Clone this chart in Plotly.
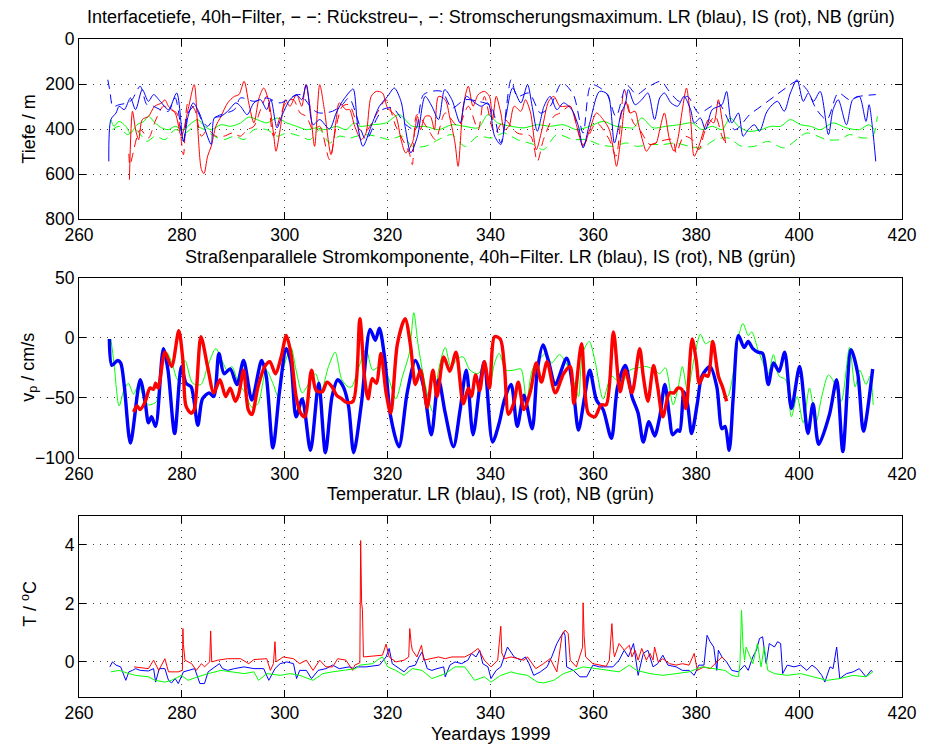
import plotly.graph_objects as go
from plotly.subplots import make_subplots

# ---------------- Interface depth (m), 40h filter ----------------
# "-" : depth of maximum current shear, "--" : backscatter interface
LR_SHEAR = [(265.8,544),(266.2,358),(267.2,329),(267.8,299),(268.8,314),(270.0,262),(271.0,314),(272.3,225),(273.5,277),(274.5,247),(275.8,277),(277.4,314),(279.0,240),(280.3,455),(281.2,344),(282.2,284),(283.4,329),(284.4,395),(285.7,469),(286.3,351),(287.6,344),(288.9,321),(290.5,284),(291.4,299),(292.7,336),(294.0,284),(295.3,270),(296.5,314),(297.3,270),(298.5,395),(299.4,344),(301.0,270),(302.3,247),(303.3,270),(304.2,203),(305.5,381),(306.8,358),(308.7,400),(310.0,329),(311.2,277),(311.9,255),(312.6,235),(313.3,222),(314.2,388),(315.2,477),(316.8,388),(318.4,299),(320.0,255),(321.3,218),(322.6,277),(323.5,403),(324.5,506),(325.8,432),(327.3,255),(328.6,299),(329.9,358),(331.1,225),(332.5,270),(334.1,373),(335.3,255),(336.6,277),(338.2,299),(339.5,284),(340.8,432),(342.0,469),(343.0,344),(344.3,218),(345.9,284),(347.2,203),(348.1,299),(349.1,410),(350.4,299),(351.6,255),(352.9,314),(354.2,284),(355.8,314),(357.1,388),(358.0,484),(359.3,373),(361.2,233),(362.8,247),(364.1,462),(365.4,329),(366.2,290),(366.8,225),(368.1,292),(369.4,270),(370.6,240),(371.9,358),(372.9,262),(373.8,240),(375.1,284),(376.4,299),(377.6,255),(378.9,314),(379.6,373),(380.8,351),(381.8,403),(383.1,314),(385.0,292),(385.9,233),(386.9,373),(388.2,329),(389.1,432),(390.1,403),(391.3,381),(392.3,410),(393.6,329),(394.5,299),(395.8,277),(397.1,321),(398.3,240),(399.6,181),(400.8,277),(401.8,240),(402.8,277),(404.1,233),(405.7,425),(406.6,314),(407.6,270),(409.2,381),(410.4,270),(411.7,255),(413.0,366),(413.6,292),(414.3,403),(414.9,544)]
LR_BACK = [(265.6,181),(266.0,230),(266.6,300),(267.8,292),(269.4,284),(270.3,270),(271.9,210),(273.2,292),(274.5,299),(275.8,314),(277.4,321),(278.7,262),(280.3,455),(281.2,329),(282.5,299),(283.8,358),(285.0,388),(286.3,351),(287.6,336),(290.2,314),(291.4,262),(294.0,277),(296.5,262),(299.1,284),(301.7,255),(303.0,247),(305.5,314),(306.8,329),(309.3,321),(311.2,292),(312.5,262),(315.8,447),(317.8,358),(319.0,314),(321.0,307),(323.5,380),(325.4,403),(327.0,247),(330.5,233),(332.5,307),(335.0,270),(337.6,277),(340.1,299),(342.0,462),(344.0,181),(345.2,255),(347.5,240),(349.7,329),(351.6,299),(353.9,195),(356.1,247),(358.0,418),(359.6,203),(362.5,240),(364.4,344),(366.5,205),(368.4,247),(370.3,218),(373.2,188),(374.5,225),(376.7,277),(378.3,255),(380.5,330),(382.4,307),(384.3,284),(387.5,403),(390.4,336),(392.6,299),(395.2,255),(397.4,218),(399.6,188),(401.5,225),(403.4,314),(405.4,358),(407.6,240),(409.8,270),(411.7,255),(414.9,247)]
IS_SHEAR = [(269.8,625),(270.4,321),(271.0,403),(271.6,447),(272.3,358),(273.5,344),(274.7,299),(276.1,284),(276.7,270),(277.4,299),(278.7,329),(279.9,432),(281.2,314),(282.4,203),(283.1,403),(283.8,580),(284.3,598),(285.0,521),(285.7,477),(286.6,388),(287.6,344),(288.9,284),(290.2,255),(291.1,247),(292.1,188),(293.0,284),(294.0,373),(295.0,262),(295.9,218),(296.9,277),(297.8,418),(298.3,499),(299.1,403),(300.1,270),(301.0,299),(302.3,247),(303.3,299),(304.1,203),(304.9,299),(305.8,477),(306.8,203),(307.7,314),(309.0,514),(310.0,358),(310.6,284),(311.9,314),(312.6,314),(313.6,388),(314.9,447),(315.8,418),(316.8,255),(317.8,233),(319.0,240),(320.0,307),(321.6,344),(322.6,447),(323.5,506),(324.8,462),(325.8,344),(326.4,403),(327.3,344),(328.3,344),(329.1,403),(329.9,255),(331.2,270),(332.1,351),(333.1,462),(333.7,566),(334.7,299),(335.7,210),(336.6,299),(337.6,247),(338.8,233),(339.8,255),(340.4,358),(341.1,255),(342.0,329),(342.7,403),(343.6,388),(344.6,299),(345.9,321),(346.8,270),(347.8,329),(348.9,492),(350.0,403),(351.3,277),(352.3,255),(353.5,299),(354.5,299),(355.5,299),(356.7,381),(358.0,477),(359.3,403),(360.6,329),(361.9,358),(363.1,403),(363.9,492),(364.5,566),(365.4,432),(366.3,277),(367.1,329),(368.1,321),(368.7,373),(369.7,462),(370.3,499),(371.3,469),(372.2,462),(372.9,403),(373.8,329),(374.8,447),(375.7,499),(376.4,447),(377.3,314),(378.1,218),(378.9,358),(379.6,521),(380.5,477),(381.5,403),(382.4,358),(383.4,373),(384.3,270),(385.0,358),(385.7,462)]
IS_BACK = [(269.7,510),(269.9,560),(271.9,403),(273.5,440),(274.8,366),(276.4,299),(277.7,314),(279.0,329),(280.3,514),(281.2,284),(282.5,314),(283.8,432),(285.0,403),(286.6,432),(288.2,432),(289.8,418),(291.4,432),(292.7,403),(294.0,388),(295.3,314),(296.5,255),(297.8,432),(299.1,344),(300.4,277),(301.7,270),(303.0,329),(304.2,344),(305.5,403),(306.8,388),(308.7,536),(310.0,388),(311.2,299),(312.5,292),(314.6,403),(315.8,410),(317.8,336),(319.7,270),(321.6,388),(324.2,506),(324.8,558),(325.7,336),(327.7,395),(329.3,447),(331.2,329),(333.7,388),(335.7,299),(337.6,403),(338.8,255),(340.8,418),(342.7,358),(345.2,418),(347.8,432),(349.1,544),(350.3,447),(352.3,344),(353.5,329),(355.5,299),(358.0,469),(360.6,373),(363.1,447),(364.4,521),(366.0,225),(367.0,321),(367.8,373),(369.0,403),(371.0,469),(372.9,455),(375.4,447),(376.1,506),(377.6,432),(379.2,447),(380.5,492),(381.8,403),(383.7,344),(385.0,432),(385.9,469)]
NB_SHEAR = [(266.2,358),(266.8,388),(267.8,366),(269.1,388),(270.0,418),(271.3,381),(272.6,366),(273.5,344),(274.8,373),(276.1,395),(277.4,403),(278.7,388),(280.3,403),(281.9,373),(283.1,358),(284.4,388),(285.7,403),(287.6,381),(289.5,388),(291.4,373),(293.0,347),(294.6,358),(296.5,373),(298.5,351),(300.4,373),(302.3,388),(304.2,403),(306.1,395),(308.0,403),(310.0,388),(311.9,403),(313.5,373),(314.6,388),(317.1,381),(319.7,373),(322.2,336),(324.8,388),(327.3,388),(329.9,403),(332.5,381),(335.0,388),(337.6,395),(339.5,336),(341.4,373),(344.0,388),(346.5,395),(349.1,381),(351.6,388),(354.2,381),(356.7,403),(359.3,388),(361.9,366),(364.4,388),(367.0,395),(367.8,395),(369.4,351),(371.6,395),(374.1,388),(376.7,381),(379.2,373),(381.1,403),(383.1,388),(385.0,403),(386.6,351),(388.2,388),(390.1,410),(392.6,403),(394.5,388),(396.4,388),(398.3,358),(400.3,381),(402.2,388),(404.1,403),(406.6,373),(409.2,395),(411.7,403),(413.6,381),(414.6,403)]
NB_BACK = [(266.5,403),(267.8,388),(269.4,425),(271.0,403),(273.2,455),(274.8,432),(276.7,447),(278.7,403),(280.6,418),(282.5,388),(284.4,403),(286.3,432),(288.2,447),(290.2,432),(292.1,447),(294.0,403),(296.5,403),(298.5,432),(300.4,418),(303.0,432),(304.9,447),(306.8,403),(308.7,462),(310.6,432),(312.6,440),(315.2,425),(317.8,432),(320.3,447),(322.9,432),(324.8,477),(327.3,477),(329.9,447),(332.5,425),(335.0,477),(337.6,432),(340.1,440),(342.7,418),(345.2,447),(348.4,469),(350.3,492),(352.9,425),(356.1,447),(358.7,447),(361.2,469),(363.8,477),(366.5,462),(368.4,477),(371.0,469),(373.5,469),(376.1,462),(378.6,477),(381.1,484),(383.7,447),(386.2,440),(388.8,477),(391.3,477),(393.9,455),(397.1,484),(401.5,418),(405.3,447),(407.9,447),(409.8,425),(412.4,440),(414.3,432),(415.2,344)]

# ---------------- Along-strait current (cm/s), 40h filter ----------------
LR_V = [(265.9,-1),(266.4,-23),(267.5,-19),(268.1,-21),(268.8,-40),(270.0,-88),(271.9,-35),(272.9,-55),(273.5,-71),(274.1,-66),(274.9,-74),(276.4,-9),(277.3,-27),(278.6,-80),(279.9,-24),(280.8,-38),(281.8,-41),(283.1,-73),(284.0,-51),(285.3,-46),(286.2,-49),(287.2,-13),(288.2,-30),(289.4,-26),(290.7,-39),(292.0,-19),(293.6,-52),(295.5,-19),(296.4,-32),(297.7,-92),(299.0,-44),(300.3,-9),(301.2,-21),(302.2,-66),(303.4,-51),(305.0,-94),(306.6,-38),(307.9,-96),(309.2,-49),(310.3,-35),(311.4,-41),(312.4,-57),(313.4,-96),(314.9,-55),(316.6,7),(317.6,-2),(318.4,8),(319.4,-16),(320.6,-66),(322.2,-91),(323.8,-46),(325.4,-19),(327.0,-41),(328.5,-81),(329.9,-35),(331.2,-63),(332.8,-91),(334.1,-60),(335.3,-27),(336.6,-81),(337.9,-41),(338.8,-20),(340.4,-87),(341.7,-71),(342.7,-52),(344.0,-39),(345.2,-74),(346.5,-48),(348.1,-76),(349.1,-27),(350.2,-6),(351.3,-20),(352.6,-39),(354.8,-17),(356.1,-44),(357.1,-77),(358.3,-49),(359.3,-27),(360.6,-52),(361.9,-60),(363.5,-84),(364.7,-41),(366.2,-23),(367.5,-49),(368.7,-63),(369.7,-87),(370.8,-70),(371.9,-82),(372.9,-66),(373.9,-39),(374.8,-66),(375.4,-81),(376.4,-77),(376.8,-78),(377.6,-45),(378.3,-55),(379.1,-80),(380.2,-55),(381.1,-32),(382.7,-24),(384.0,-41),(385.0,-76),(385.6,-74),(386.4,-94),(387.2,-49),(388.2,2),(389.3,-8),(390.1,-3),(391.0,-9),(392.0,-12),(392.9,-13),(394.0,-39),(395.0,-21),(396.1,-28),(397.2,-12),(398.5,-59),(400.1,-24),(401.7,-80),(402.7,-55),(403.8,-89),(405.9,-64),(407.3,-35),(408.5,-95),(410.1,-10),(411.4,-30),(412.5,-78),(414.3,-26)]
IS_V = [(270.6,-62),(271.3,-57),(271.9,-60),(272.9,-53),(273.8,-42),(274.5,-43),(274.9,-38),(275.4,-42),(276.7,-12),(278.0,-24),(279.4,6),(280.2,-19),(280.8,-57),(281.8,-63),(282.4,-60),(283.7,1),(285.0,-24),(286.2,-46),(287.4,-35),(288.5,-49),(289.4,-42),(290.4,-53),(291.0,-48),(292.0,-27),(292.9,-60),(293.6,-64),(294.8,-41),(296.1,-24),(297.1,-20),(298.2,-30),(299.3,-16),(300.3,2),(301.2,-13),(302.2,-49),(303.1,-63),(303.9,-66),(305.2,-27),(306.1,-44),(307.3,-45),(308.2,-37),(309.2,-41),(310.1,-48),(311.1,-51),(312.0,-54),(313.3,-53),(314.6,16),(315.5,-33),(316.2,-51),(317.0,-34),(317.8,-38),(318.7,-13),(319.7,-46),(320.6,-63),(321.9,-5),(323.4,16),(324.5,-8),(325.4,-39),(326.4,-27),(327.7,-58),(328.8,-27),(329.6,-49),(330.9,-16),(332.1,-28),(333.3,-12),(334.7,-55),(335.7,-42),(336.3,-49),(337.1,-31),(337.9,-44),(338.8,-20),(339.8,-42),(340.8,1),(341.9,-1),(342.7,-24),(343.5,-64),(344.5,-55),(345.4,-37),(346.5,-60),(347.8,-44),(348.9,-21),(349.9,-37),(351.0,-20),(352.6,-46),(354.2,-30),(355.5,-24),(356.2,-55),(357.7,-5),(359.0,-63),(360.3,-66),(361.5,-56),(362.5,-56),(363.9,5),(365.2,-45),(366.2,-27),(367.5,-46),(369.0,-9),(369.7,-32),(370.6,-53),(371.7,-23),(372.5,-41),(373.5,-66),(374.8,-46),(375.7,-46),(376.4,-42),(377.2,-43),(378.0,-59),(379.2,-1),(380.0,-19),(380.6,-38),(381.5,-31),(382.3,-32),(383.2,-3),(384.3,-32),(385.1,-41),(385.9,-53)]
NB_V = [(266.2,-1),(266.8,-21),(267.8,-57),(268.7,-44),(269.6,-38),(270.6,-47),(271.6,-39),(272.5,-49),(273.5,-56),(274.5,-55),(275.1,-53),(276.0,-21),(277.0,-12),(278.0,-20),(279.2,-35),(280.6,-19),(282.1,-38),(283.7,-39),(285.0,-24),(286.6,-9),(287.8,-19),(288.8,-27),(289.7,-24),(291.0,-38),(292.3,-46),(293.6,-58),(294.8,-55),(296.4,-27),(297.7,-38),(298.7,-49),(299.6,-28),(301.2,-8),(302.2,-27),(303.4,-46),(304.7,-38),(306.0,-30),(307.1,-44),(308.5,-24),(309.8,-12),(311.1,-35),(312.4,-41),(313.0,-41),(314.2,-27),(315.8,-10),(317.1,-27),(318.4,-24),(320.0,-32),(321.6,-51),(322.9,-32),(324.2,-13),(325.1,21),(325.9,-5),(327.3,-39),(328.8,-62),(329.9,-27),(331.2,-8),(332.3,-24),(333.7,-17),(334.7,-16),(336.0,-27),(337.6,-30),(338.8,-21),(339.8,-41),(340.8,-21),(341.7,-13),(343.0,-27),(344.6,-27),(345.9,-26),(347.0,-53),(348.1,-27),(349.4,-19),(350.7,-13),(351.9,-21),(353.4,-14),(354.7,-21),(356.1,-35),(357.1,-49),(357.9,-13),(359.2,-3),(360.3,-19),(361.9,-51),(363.5,-32),(365.0,-37),(366.0,-35),(367.1,-27),(368.7,-25),(370.3,-24),(371.9,-27),(372.9,-30),(374.0,-25),(375.5,-56),(376.6,-39),(377.3,-24),(378.3,-44),(379.6,-17),(380.8,3),(381.8,-5),(382.7,-3),(384.0,-21),(385.0,-41),(386.1,-49),(387.5,-21),(388.2,1),(389.1,12),(390.1,2),(390.8,5),(392.0,-10),(392.9,-20),(394.0,-30),(395.0,-14),(396.1,-32),(397.4,-35),(398.5,-66),(399.6,-49),(400.8,-71),(402.0,-42),(403.3,-70),(404.4,-49),(405.7,-31),(406.9,-38),(408.2,-53),(409.8,-8),(410.9,-41),(411.8,-27),(413.0,-39),(413.8,-32),(414.4,-56)]

# ---------------- Temperature (deg C) ----------------
LR_T = [(266.0,-0.17),(266.5,0.0),(267.2,-0.11),(268.1,-0.17),(269.1,-0.63),(269.7,-0.34),(270.4,-0.29),(271.0,-0.23),(271.9,-0.29),(273.5,-0.31),(274.5,-0.23),(274.9,-0.69),(275.6,-0.23),(276.7,-0.23),(277.4,-0.63),(278.0,-0.72),(278.7,-0.57),(279.3,-0.74),(280.3,-0.34),(281.2,-0.29),(282.5,-0.23),(283.5,-0.74),(284.4,-0.74),(285.1,-0.34),(286.3,-0.17),(287.3,-0.06),(287.9,-0.23),(288.9,-0.29),(290.2,-0.23),(292.1,-0.17),(294.0,-0.23),(295.9,-0.23),(296.9,-0.63),(298.1,-0.23),(299.1,-0.06),(300.4,0.0),(301.7,-0.06),(302.3,-0.57),(302.9,-0.29),(304.2,-0.29),(305.2,-0.57),(306.5,-0.29),(308.0,-0.23),(309.3,-0.11),(310.6,-0.23),(312.5,-0.17),(313.5,-0.23),(313.9,-0.17),(315.8,-0.17),(318.4,-0.11),(319.7,0.17),(320.3,0.46),(320.9,-0.06),(322.2,-0.23),(323.2,-0.34),(324.1,-0.17),(325.4,-0.11),(326.1,0.17),(326.7,0.34),(327.7,-0.23),(328.6,-0.29),(329.6,-0.23),(330.9,-0.17),(331.2,-0.51),(332.1,-0.11),(333.1,0.0),(334.4,-0.06),(335.6,0.06),(336.3,0.29),(337.2,0.17),(337.9,0.40),(338.5,-0.06),(339.5,-0.17),(340.1,-0.57),(341.1,-0.29),(342.0,-0.17),(343.3,0.51),(344.6,0.17),(345.9,0.06),(346.8,0.17),(347.5,-0.06),(348.4,-0.46),(349.7,-0.34),(351.0,-0.17),(351.9,0.17),(352.9,0.63),(354.2,1.03),(354.5,0.90),(354.8,-0.17),(356.1,-0.29),(357.4,-0.51),(358.7,-0.51),(359.9,-0.11),(361.2,-0.17),(362.5,-0.17),(363.8,-0.17),(365.0,0.06),(366.0,0.40),(366.8,0.17),(367.8,0.63),(368.7,-0.46),(369.7,0.29),(370.6,0.40),(371.6,-0.17),(372.5,-0.06),(373.5,0.23),(374.5,-0.11),(376.1,-0.17),(377.3,-0.29),(378.6,-0.29),(379.6,-0.46),(380.5,-0.11),(381.5,-0.11),(382.1,0.91),(382.7,0.69),(383.4,0.51),(384.0,-0.29),(384.3,0.40),(385.0,0.17),(385.9,0.0),(386.9,-0.29),(388.2,-0.34),(389.4,-0.11),(390.1,-0.29),(391.0,0.17),(391.7,0.40),(392.3,0.80),(392.9,0.86),(393.6,-0.06),(394.2,0.63),(395.2,0.51),(395.8,0.69),(396.4,0.63),(396.8,-0.40),(397.7,-0.11),(399.0,-0.17),(400.3,-0.11),(401.5,-0.29),(402.5,-0.11),(403.4,-0.23),(404.4,-0.46),(405.0,-0.69),(406.0,-0.17),(406.6,-0.23),(407.3,0.51),(407.9,-0.57),(409.2,-0.40),(410.5,-0.34),(411.7,-0.23),(413.0,-0.51),(414.0,-0.29),(414.3,-0.34)]
IS_T = [(270.7,-0.17),(273.5,-0.23),(274.5,0.06),(275.5,-0.29),(276.7,0.11),(277.4,-0.34),(279.3,-0.34),(280.1,-0.29),(280.2,1.14),(280.3,0.60),(280.6,0.06),(281.9,-0.06),(282.8,-0.29),(283.8,-0.06),(284.4,-0.17),(285.4,0.0),(285.6,1.06),(285.8,0.0),(287.0,0.06),(288.9,0.11),(291.4,0.11),(293.0,-0.06),(294.0,0.08),(296.5,0.11),(297.2,-0.29),(297.8,-0.06),(298.1,0.69),(298.3,0.0),(299.7,0.17),(301.7,0.11),(302.9,-0.06),(304.2,0.06),(305.5,-0.29),(306.8,0.06),(308.0,-0.17),(309.3,-0.17),(310.3,0.11),(311.9,0.06),(313.2,-0.29),(313.6,-0.11),(314.6,-0.03),(314.76,4.15),(314.95,2.0),(315.1,1.8),(315.3,0.17),(317.1,0.19),(319.0,0.23),(319.7,0.61),(320.3,0.17),(321.6,0.0),(323.2,0.06),(324.1,0.17),(324.3,1.14),(324.6,0.60),(324.8,0.40),(325.7,0.17),(326.6,0.57),(327.0,0.06),(328.6,0.11),(329.9,0.17),(331.2,0.11),(332.5,0.17),(333.7,0.17),(335.0,0.17),(336.3,0.29),(337.6,0.46),(338.8,0.06),(340.1,-0.17),(341.4,0.06),(342.0,1.22),(342.2,0.30),(342.7,0.11),(344.0,0.17),(345.2,0.11),(346.5,0.06),(347.2,0.17),(348.8,-0.23),(350.3,-0.06),(351.6,0.11),(352.9,-0.34),(353.9,0.91),(354.5,1.09),(355.1,0.97),(355.5,0.06),(356.7,-0.17),(357.9,0.50),(358.0,2.02),(358.2,0.90),(358.5,0.17),(359.9,-0.06),(361.2,-0.11),(362.5,-0.15),(363.1,0.06),(363.6,1.31),(363.9,0.40),(364.1,0.17),(365.0,0.63),(366.0,0.40),(367.0,0.57),(367.5,0.17),(368.1,0.40),(368.7,0.06),(369.4,0.46),(370.3,0.06),(371.0,0.29),(371.6,0.06),(371.9,0.51),(372.6,0.0),(373.5,0.11),(374.8,-0.06),(376.1,-0.11),(377.3,-0.06),(378.6,-0.11),(379.6,0.29),(380.2,-0.29),(381.5,-0.17),(382.7,-0.23),(383.7,-0.06),(384.3,0.06),(385.0,0.17),(385.6,0.06)]
NB_T = [(266.2,-0.34),(267.8,-0.29),(269.7,-0.40),(271.0,-0.46),(273.5,-0.51),(274.8,-0.63),(276.7,-0.69),(278.0,-0.63),(279.9,-0.46),(281.2,-0.63),(283.1,-0.51),(285.1,-0.40),(287.6,-0.29),(290.2,-0.34),(292.1,-0.40),(294.0,-0.34),(294.9,-0.63),(296.5,-0.40),(299.1,-0.46),(301.0,-0.40),(302.9,-0.46),(305.5,-0.63),(307.4,-0.40),(309.3,-0.34),(311.9,-0.29),(313.8,-0.23),(314.6,-0.11),(317.1,-0.06),(318.4,0.11),(319.0,0.17),(320.0,-0.17),(321.6,-0.29),(323.2,-0.46),(324.8,-0.23),(326.7,-0.29),(328.6,-0.57),(331.2,-0.40),(333.1,-0.17),(335.0,-0.17),(336.9,-0.63),(338.8,-0.51),(340.1,-0.69),(342.0,-0.46),(344.0,-0.34),(345.2,-0.40),(347.2,-0.46),(349.1,-0.69),(350.3,-0.72),(352.3,-0.63),(354.2,-0.40),(356.1,-0.29),(358.0,-0.17),(360.6,-0.23),(363.1,-0.29),(365.0,-0.34),(367.0,-0.11),(368.4,-0.29),(371.0,-0.40),(373.5,-0.46),(376.1,-0.40),(378.6,-0.34),(381.1,-0.17),(383.7,-0.23),(385.6,-0.29),(386.9,-0.46),(388.2,-0.51),(388.5,-0.06),(388.8,1.77),(389.1,0.50),(389.4,0.06),(389.7,0.51),(390.4,0.17),(391.0,-0.06),(391.9,0.63),(392.6,-0.17),(393.2,0.51),(393.9,-0.29),(395.2,-0.40),(397.7,-0.46),(400.3,-0.40),(402.8,-0.51),(405.4,-0.63),(407.9,-0.57),(410.5,-0.46),(413.0,-0.51),(414.3,-0.34)]

X_TICKS = [260, 280, 300, 320, 340, 360, 380, 400, 420]
DEPTH_TICKS = [0, 200, 400, 600, 800]
V_TICKS = [-100, -50, 0, 50]
T_TICKS = [0, 2, 4]

TITLES = [
    "Interfacetiefe, 40h\u2212Filter, \u2212 \u2212: Rückstreu\u2212, \u2212: Stromscherungsmaximum. LR (blau), IS (rot), NB (grün)",
    "Straßenparallele Stromkomponente, 40h\u2212Filter. LR (blau), IS (rot), NB (grün)",
    "Temperatur. LR (blau), IS (rot), NB (grün)",
]

BLUE, RED, GREEN = "#0000ff", "#ff0000", "#00ff00"
FONT = "Liberation Sans, Arial, sans-serif"
TEXT_SIZE = 18
TICK_SIZE = 17.5

fig = make_subplots(rows=3, cols=1, shared_xaxes=False, vertical_spacing=0.08)


def xy(pairs):
    return [p[0] for p in pairs], [p[1] for p in pairs]


def add(pairs, row, color, width=1.0, dash="solid", shape="spline"):
    x, y = xy(pairs)
    fig.add_trace(go.Scatter(x=x, y=y, mode="lines", showlegend=False,
                             line=dict(color=color, width=width, dash=dash, shape=shape,
                                       smoothing=0.8 if shape == "spline" else None)),
                  row=row, col=1)


DASH = "9px,6px"
# panel 1: interface depth
add(NB_BACK, 1, GREEN, dash=DASH)
add(NB_SHEAR, 1, GREEN)
add(IS_BACK, 1, RED, dash=DASH)
add(IS_SHEAR, 1, RED)
add(LR_BACK, 1, BLUE, dash=DASH)
add(LR_SHEAR, 1, BLUE)
# panel 2: along-strait velocity
add(NB_V, 2, GREEN, width=1.0)
add(LR_V, 2, BLUE, width=3.4)
add(IS_V, 2, RED, width=3.4)
# panel 3: temperature
add(LR_T, 3, BLUE, shape="linear")
add(IS_T, 3, RED, shape="linear")
add(NB_T, 3, GREEN, shape="linear")

axis_common = dict(
    showline=True, linecolor="black", linewidth=1, mirror="ticks",
    ticks="inside", ticklen=7, tickwidth=1, tickcolor="black",
    showgrid=True, gridcolor="rgba(0,0,0,0.75)", gridwidth=1, griddash="1px,6px",
    zeroline=False, tickfont=dict(family=FONT, size=TICK_SIZE, color="black"),
)

# plot areas (paper fractions) from pixel layout
H_PLOT = 744 - 39 - 47
def dom(top_px, bot_px):
    return [(697 - bot_px) / H_PLOT, (697 - top_px) / H_PLOT]

domains = [dom(39, 219), dom(278, 457.5), dom(515.7, 697)]

for i in range(3):
    fig.update_xaxes(range=[260, 420], tickvals=X_TICKS, domain=[0, 1], row=i + 1, col=1, **axis_common)
    fig.update_yaxes(domain=domains[i], row=i + 1, col=1, **axis_common)

fig.update_yaxes(range=[800, 0], tickvals=DEPTH_TICKS, row=1, col=1)
fig.update_yaxes(range=[-100, 50], tickvals=V_TICKS, row=2, col=1)
fig.update_yaxes(range=[-1.2, 5], tickvals=T_TICKS, row=3, col=1)

ann = []
title_y = [(697 - 17) / H_PLOT, (697 - 257) / H_PLOT, (697 - 494) / H_PLOT]
for t, yy in zip(TITLES, title_y):
    ann.append(dict(text=t, x=0.5, y=yy, xref="paper", yref="paper", showarrow=False,
                    xanchor="center", yanchor="middle",
                    font=dict(family=FONT, size=TEXT_SIZE, color="black")))
ann.append(dict(text="Yeardays 1999", x=0.5, y=(697 - 734) / H_PLOT, xref="paper", yref="paper",
                showarrow=False, xanchor="center", yanchor="middle",
                font=dict(family=FONT, size=TEXT_SIZE, color="black")))
ylabels = [("Tiefe / m", 129), ("v<sub>p</sub> / cm/s", 367), ("T / <sup>o</sup>C", 604)]
for t, ypx in ylabels:
    ann.append(dict(text=t, x=(28 - 79) / 834, y=(697 - ypx) / H_PLOT, xref="paper", yref="paper",
                    showarrow=False, textangle=-90, xanchor="center", yanchor="middle",
                    font=dict(family=FONT, size=TEXT_SIZE, color="black")))

fig.update_layout(
    width=929, height=744, autosize=False,
    margin=dict(l=79, r=16, t=39, b=47),
    paper_bgcolor="white", plot_bgcolor="white",
    annotations=ann, showlegend=False,
)

fig.write_html("out.html")
